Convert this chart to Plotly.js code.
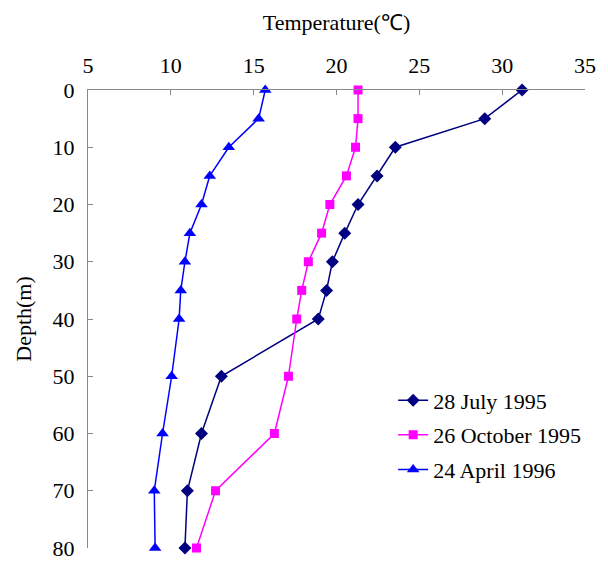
<!DOCTYPE html>
<html>
<head>
<meta charset="utf-8">
<script src="https://cdn.plot.ly/plotly-3.0.1.min.js"></script>
<style>html,body{margin:0;padding:0;background:#fff;}#chart{width:608px;height:561px;}</style>
</head>
<body>
<div id="chart"></div>
<script>
const depth = [0, 5, 10, 15, 20, 25, 30, 35, 40, 50, 60, 70, 80];
const july1995 = [31.2, 28.95, 23.55, 22.45, 21.3, 20.5, 19.75, 19.4, 18.9, 13.05, 11.85, 11.0, 10.85];
const oct1995 = [21.3, 21.3, 21.15, 20.6, 19.6, 19.1, 18.3, 17.9, 17.6, 17.1, 16.25, 12.7, 11.55];
const apr1996 = [15.7, 15.3, 13.5, 12.35, 11.85, 11.15, 10.85, 10.6, 10.5, 10.05, 9.5, 9.0, 9.05];
const seriesNames = ["28 July 1995", "26 October 1995", "24 April 1996"];

const font = {family: "Liberation Serif, Times New Roman, serif", size: 22, color: "#000"};

const traces = [
  {x: july1995, y: depth, name: seriesNames[0], legendgroup: "a", mode: "lines+markers", cliponaxis: false,
   line: {color: "#000080", width: 1.5}, marker: {symbol: "diamond", size: 10, color: "#000080"}},
  {x: oct1995, y: depth, name: seriesNames[1], legendgroup: "b", mode: "lines+markers", cliponaxis: false,
   line: {color: "#FF00FF", width: 1.5}, marker: {symbol: "square", size: 9, color: "#FF00FF"}},
  {x: apr1996, y: depth, name: seriesNames[2], legendgroup: "c", mode: "lines+markers", cliponaxis: false,
   line: {color: "#0000FF", width: 1.5}, marker: {symbol: "triangle-up", size: 11, color: "#0000FF"}}
];

const layout = {
  width: 608, height: 561,
  margin: {l: 88, r: 23, t: 90, b: 13},
  paper_bgcolor: "#fff", plot_bgcolor: "#fff",
  font: font,
  showlegend: true,
  legend: {x: 0.614, y: 0.368, xanchor: "left", yanchor: "top", font: font,
           tracegroupgap: 3, bgcolor: "rgba(0,0,0,0)"},
  xaxis: {
    side: "top", range: [5, 35], dtick: 5, tick0: 5,
    showgrid: false, zeroline: false,
    showline: true, linecolor: "#888", linewidth: 1,
    ticks: "inside", ticklen: 5, tickcolor: "#888",
    tickfont: font, ticklabelstandoff: 7,
    title: {text: "Temperature(℃)", font: font, standoff: 16}
  },
  yaxis: {
    range: [80, 0], dtick: 10, tick0: 0,
    showgrid: false, zeroline: false,
    showline: true, linecolor: "#888", linewidth: 1,
    ticks: "inside", ticklen: 5, tickcolor: "#888",
    tickfont: font, ticklabelstandoff: 8,
    title: {text: "Depth(m)", font: font, standoff: 14}
  }
};

Plotly.newPlot("chart", traces, layout, {displayModeBar: false, staticPlot: true});
</script>
</body>
</html>
